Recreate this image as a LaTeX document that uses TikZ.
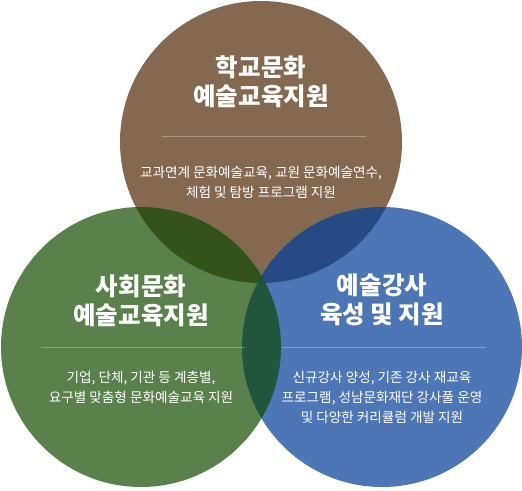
\documentclass[tikz,border=0pt]{standalone}
\usepackage{fontspec}
\setmainfont{Noto Sans CJK KR}
\definecolor{cbrown}{HTML}{846950}
\definecolor{cgreen}{HTML}{5A814C}
\definecolor{cblue}{HTML}{4D76B6}
\definecolor{cbg}{HTML}{34531B}
\definecolor{cbb}{HTML}{264A84}
\definecolor{cgb}{HTML}{22563C}
\definecolor{call}{HTML}{1F533A}
\tikzset{
  titletext/.style={text=white, font=\fontsize{24.5}{29}\selectfont\bfseries, align=center, inner sep=0pt},
  bodytext/.style={text=white, font=\fontsize{13.6}{20}\selectfont, align=center, inner sep=0pt},
  divider/.style={white, opacity=0.3, line width=0.8pt},
}
\begin{document}
\begin{tikzpicture}[x=1pt,y=-1pt]
\useasboundingbox (0,0) rectangle (522,490);
% circles
\fill[cbrown] (261,142) circle (141);
\fill[cgreen] (141,347) circle (140);
\fill[cblue] (382,347) circle (140);
\node[circle, minimum size=282pt, inner sep=0pt] (ctop) at (261,142) {};
\node[circle, minimum size=280pt, inner sep=0pt] (cleft) at (141,347) {};
\node[circle, minimum size=280pt, inner sep=0pt] (cright) at (382,347) {};
% overlaps
\begin{scope}
  \clip (261,142) circle (141);
  \fill[cbg] (141,347) circle (140);
  \fill[cbb] (382,347) circle (140);
\end{scope}
\begin{scope}
  \clip (141,347) circle (140);
  \fill[cgb] (382,347) circle (140);
  \begin{scope}
    \clip (382,347) circle (140);
    \fill[call] (261,142) circle (141);
  \end{scope}
\end{scope}
% top circle texts
\node[titletext] (t1) at (261,82) {학교문화\\예술교육지원};
\coordinate (d1a) at (162,136);
\coordinate (d1b) at (366,136);
\draw[divider] (d1a) -- (d1b);
\node[bodytext] (b1) at (261,182.5) {교과연계 문화예술교육, 교원 문화예술연수,\\체험 및 탐방 프로그램 지원};
% left circle texts
\node[titletext] (t2) at (141,301) {사회문화\\예술교육지원};
\coordinate (d2a) at (41,347);
\coordinate (d2b) at (245,347);
\draw[divider] (d2a) -- (d2b);
\node[bodytext] (b2) at (141,387) {기업, 단체, 기관 등 계층별,\\요구별 맞춤형 문화예술교육 지원};
% right circle texts
\node[titletext] (t3) at (382,300) {예술강사\\육성 및 지원};
\coordinate (d3a) at (282,347);
\coordinate (d3b) at (486,347);
\draw[divider] (d3a) -- (d3b);
\node[bodytext] (b3) at (382,397) {신규강사 양성, 기존 강사 재교육\\프로그램, 성남문화재단 강사풀 운영\\및 다양한 커리큘럼 개발 지원};
\end{tikzpicture}
\end{document}
